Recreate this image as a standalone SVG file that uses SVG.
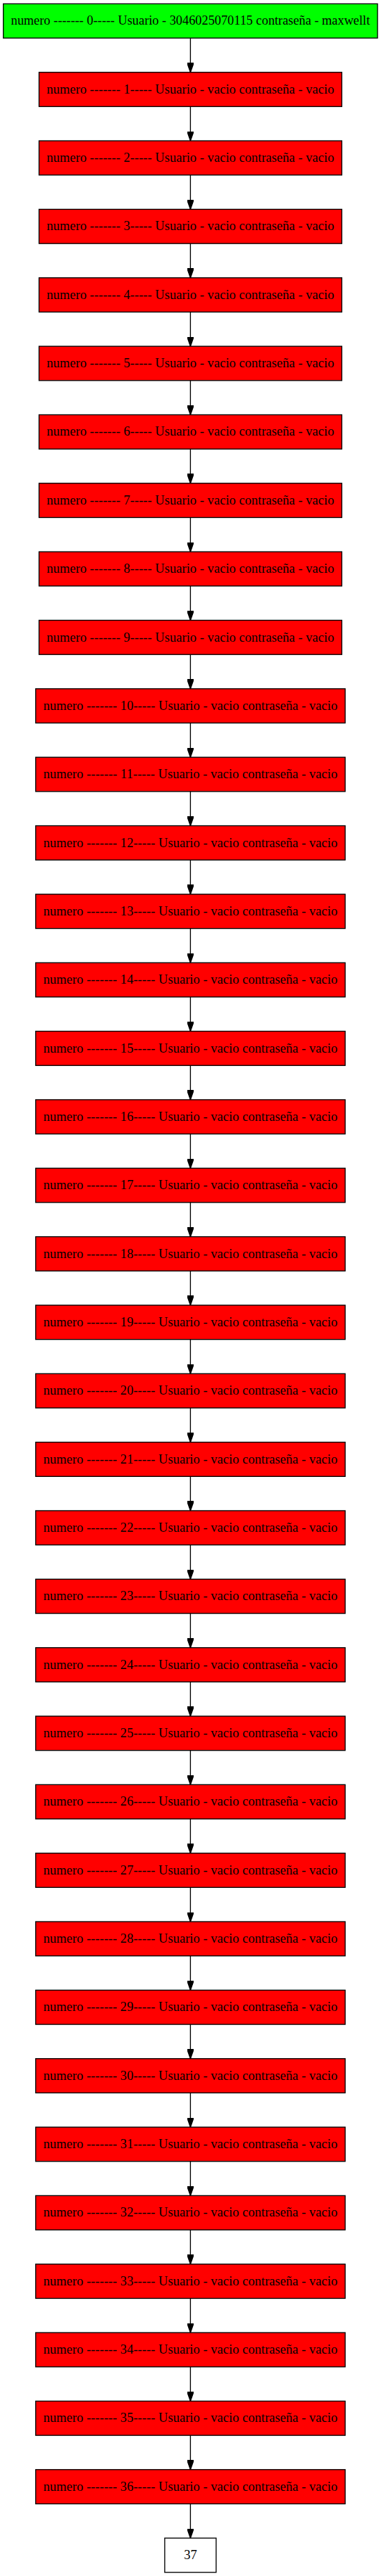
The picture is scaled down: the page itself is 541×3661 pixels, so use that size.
<svg xmlns="http://www.w3.org/2000/svg" width="541" height="3661" viewBox="0 0 541 3661">
<style>
rect{stroke:#000;stroke-width:1}
.g{fill:#00ff00}.r{fill:#ff0000}.w{fill:#fff}
text{font-family:"Liberation Serif","Times New Roman",serif;font-size:13.7px;fill:#000;text-anchor:middle}
.e line{stroke:#000;stroke-width:1}
</style>
<defs>
<marker id="ah" viewBox="0 0 10 7" refX="10" refY="3.5" markerWidth="10" markerHeight="7" markerUnits="userSpaceOnUse" orient="auto"><path d="M0,0L10,3.5L0,7z" fill="#000" stroke="#000" stroke-width="1"/></marker>
</defs>
<rect x="0" y="0" width="541" height="3661" fill="#fff" style="stroke:none"/>
<g transform="scale(1.352)">
<g id="edges" class="e">
<line x1="200" y1="40" x2="200" y2="76" marker-end="url(#ah)"/>
<line x1="200" y1="112" x2="200" y2="148" marker-end="url(#ah)"/>
<line x1="200" y1="184" x2="200" y2="220" marker-end="url(#ah)"/>
<line x1="200" y1="256" x2="200" y2="292" marker-end="url(#ah)"/>
<line x1="200" y1="328" x2="200" y2="364" marker-end="url(#ah)"/>
<line x1="200" y1="400" x2="200" y2="436" marker-end="url(#ah)"/>
<line x1="200" y1="472" x2="200" y2="508" marker-end="url(#ah)"/>
<line x1="200" y1="544" x2="200" y2="580" marker-end="url(#ah)"/>
<line x1="200" y1="616" x2="200" y2="652" marker-end="url(#ah)"/>
<line x1="200" y1="688" x2="200" y2="724" marker-end="url(#ah)"/>
<line x1="200" y1="760" x2="200" y2="796" marker-end="url(#ah)"/>
<line x1="200" y1="832" x2="200" y2="868" marker-end="url(#ah)"/>
<line x1="200" y1="904" x2="200" y2="940" marker-end="url(#ah)"/>
<line x1="200" y1="976" x2="200" y2="1012" marker-end="url(#ah)"/>
<line x1="200" y1="1048" x2="200" y2="1084" marker-end="url(#ah)"/>
<line x1="200" y1="1120" x2="200" y2="1156" marker-end="url(#ah)"/>
<line x1="200" y1="1192" x2="200" y2="1228" marker-end="url(#ah)"/>
<line x1="200" y1="1264" x2="200" y2="1300" marker-end="url(#ah)"/>
<line x1="200" y1="1336" x2="200" y2="1372" marker-end="url(#ah)"/>
<line x1="200" y1="1408" x2="200" y2="1444" marker-end="url(#ah)"/>
<line x1="200" y1="1480" x2="200" y2="1516" marker-end="url(#ah)"/>
<line x1="200" y1="1552" x2="200" y2="1588" marker-end="url(#ah)"/>
<line x1="200" y1="1624" x2="200" y2="1660" marker-end="url(#ah)"/>
<line x1="200" y1="1696" x2="200" y2="1732" marker-end="url(#ah)"/>
<line x1="200" y1="1768" x2="200" y2="1804" marker-end="url(#ah)"/>
<line x1="200" y1="1840" x2="200" y2="1876" marker-end="url(#ah)"/>
<line x1="200" y1="1912" x2="200" y2="1948" marker-end="url(#ah)"/>
<line x1="200" y1="1984" x2="200" y2="2020" marker-end="url(#ah)"/>
<line x1="200" y1="2056" x2="200" y2="2092" marker-end="url(#ah)"/>
<line x1="200" y1="2128" x2="200" y2="2164" marker-end="url(#ah)"/>
<line x1="200" y1="2200" x2="200" y2="2236" marker-end="url(#ah)"/>
<line x1="200" y1="2272" x2="200" y2="2308" marker-end="url(#ah)"/>
<line x1="200" y1="2344" x2="200" y2="2380" marker-end="url(#ah)"/>
<line x1="200" y1="2416" x2="200" y2="2452" marker-end="url(#ah)"/>
<line x1="200" y1="2488" x2="200" y2="2524" marker-end="url(#ah)"/>
<line x1="200" y1="2560" x2="200" y2="2596" marker-end="url(#ah)"/>
<line x1="200" y1="2632" x2="200" y2="2668" marker-end="url(#ah)"/>
</g>
<g id="n0"><rect class="g" x="3.5" y="4" width="393" height="36"/><text x="200" y="26.2" textLength="377" lengthAdjust="spacingAndGlyphs">numero ------- 0----- Usuario - 3046025070115 contraseña - maxwellt</text></g>
<g id="n1"><rect class="r" x="41" y="76" width="318" height="36"/><text x="200" y="98.2" textLength="302" lengthAdjust="spacingAndGlyphs">numero ------- 1----- Usuario - vacio contraseña - vacio</text></g>
<g id="n2"><rect class="r" x="41" y="148" width="318" height="36"/><text x="200" y="170.2" textLength="302" lengthAdjust="spacingAndGlyphs">numero ------- 2----- Usuario - vacio contraseña - vacio</text></g>
<g id="n3"><rect class="r" x="41" y="220" width="318" height="36"/><text x="200" y="242.2" textLength="302" lengthAdjust="spacingAndGlyphs">numero ------- 3----- Usuario - vacio contraseña - vacio</text></g>
<g id="n4"><rect class="r" x="41" y="292" width="318" height="36"/><text x="200" y="314.2" textLength="302" lengthAdjust="spacingAndGlyphs">numero ------- 4----- Usuario - vacio contraseña - vacio</text></g>
<g id="n5"><rect class="r" x="41" y="364" width="318" height="36"/><text x="200" y="386.2" textLength="302" lengthAdjust="spacingAndGlyphs">numero ------- 5----- Usuario - vacio contraseña - vacio</text></g>
<g id="n6"><rect class="r" x="41" y="436" width="318" height="36"/><text x="200" y="458.2" textLength="302" lengthAdjust="spacingAndGlyphs">numero ------- 6----- Usuario - vacio contraseña - vacio</text></g>
<g id="n7"><rect class="r" x="41" y="508" width="318" height="36"/><text x="200" y="530.2" textLength="302" lengthAdjust="spacingAndGlyphs">numero ------- 7----- Usuario - vacio contraseña - vacio</text></g>
<g id="n8"><rect class="r" x="41" y="580" width="318" height="36"/><text x="200" y="602.2" textLength="302" lengthAdjust="spacingAndGlyphs">numero ------- 8----- Usuario - vacio contraseña - vacio</text></g>
<g id="n9"><rect class="r" x="41" y="652" width="318" height="36"/><text x="200" y="674.2" textLength="302" lengthAdjust="spacingAndGlyphs">numero ------- 9----- Usuario - vacio contraseña - vacio</text></g>
<g id="n10"><rect class="r" x="37.5" y="724" width="325" height="36"/><text x="200" y="746.2" textLength="309" lengthAdjust="spacingAndGlyphs">numero ------- 10----- Usuario - vacio contraseña - vacio</text></g>
<g id="n11"><rect class="r" x="37.5" y="796" width="325" height="36"/><text x="200" y="818.2" textLength="309" lengthAdjust="spacingAndGlyphs">numero ------- 11----- Usuario - vacio contraseña - vacio</text></g>
<g id="n12"><rect class="r" x="37.5" y="868" width="325" height="36"/><text x="200" y="890.2" textLength="309" lengthAdjust="spacingAndGlyphs">numero ------- 12----- Usuario - vacio contraseña - vacio</text></g>
<g id="n13"><rect class="r" x="37.5" y="940" width="325" height="36"/><text x="200" y="962.2" textLength="309" lengthAdjust="spacingAndGlyphs">numero ------- 13----- Usuario - vacio contraseña - vacio</text></g>
<g id="n14"><rect class="r" x="37.5" y="1012" width="325" height="36"/><text x="200" y="1034.2" textLength="309" lengthAdjust="spacingAndGlyphs">numero ------- 14----- Usuario - vacio contraseña - vacio</text></g>
<g id="n15"><rect class="r" x="37.5" y="1084" width="325" height="36"/><text x="200" y="1106.2" textLength="309" lengthAdjust="spacingAndGlyphs">numero ------- 15----- Usuario - vacio contraseña - vacio</text></g>
<g id="n16"><rect class="r" x="37.5" y="1156" width="325" height="36"/><text x="200" y="1178.2" textLength="309" lengthAdjust="spacingAndGlyphs">numero ------- 16----- Usuario - vacio contraseña - vacio</text></g>
<g id="n17"><rect class="r" x="37.5" y="1228" width="325" height="36"/><text x="200" y="1250.2" textLength="309" lengthAdjust="spacingAndGlyphs">numero ------- 17----- Usuario - vacio contraseña - vacio</text></g>
<g id="n18"><rect class="r" x="37.5" y="1300" width="325" height="36"/><text x="200" y="1322.2" textLength="309" lengthAdjust="spacingAndGlyphs">numero ------- 18----- Usuario - vacio contraseña - vacio</text></g>
<g id="n19"><rect class="r" x="37.5" y="1372" width="325" height="36"/><text x="200" y="1394.2" textLength="309" lengthAdjust="spacingAndGlyphs">numero ------- 19----- Usuario - vacio contraseña - vacio</text></g>
<g id="n20"><rect class="r" x="37.5" y="1444" width="325" height="36"/><text x="200" y="1466.2" textLength="309" lengthAdjust="spacingAndGlyphs">numero ------- 20----- Usuario - vacio contraseña - vacio</text></g>
<g id="n21"><rect class="r" x="37.5" y="1516" width="325" height="36"/><text x="200" y="1538.2" textLength="309" lengthAdjust="spacingAndGlyphs">numero ------- 21----- Usuario - vacio contraseña - vacio</text></g>
<g id="n22"><rect class="r" x="37.5" y="1588" width="325" height="36"/><text x="200" y="1610.2" textLength="309" lengthAdjust="spacingAndGlyphs">numero ------- 22----- Usuario - vacio contraseña - vacio</text></g>
<g id="n23"><rect class="r" x="37.5" y="1660" width="325" height="36"/><text x="200" y="1682.2" textLength="309" lengthAdjust="spacingAndGlyphs">numero ------- 23----- Usuario - vacio contraseña - vacio</text></g>
<g id="n24"><rect class="r" x="37.5" y="1732" width="325" height="36"/><text x="200" y="1754.2" textLength="309" lengthAdjust="spacingAndGlyphs">numero ------- 24----- Usuario - vacio contraseña - vacio</text></g>
<g id="n25"><rect class="r" x="37.5" y="1804" width="325" height="36"/><text x="200" y="1826.2" textLength="309" lengthAdjust="spacingAndGlyphs">numero ------- 25----- Usuario - vacio contraseña - vacio</text></g>
<g id="n26"><rect class="r" x="37.5" y="1876" width="325" height="36"/><text x="200" y="1898.2" textLength="309" lengthAdjust="spacingAndGlyphs">numero ------- 26----- Usuario - vacio contraseña - vacio</text></g>
<g id="n27"><rect class="r" x="37.5" y="1948" width="325" height="36"/><text x="200" y="1970.2" textLength="309" lengthAdjust="spacingAndGlyphs">numero ------- 27----- Usuario - vacio contraseña - vacio</text></g>
<g id="n28"><rect class="r" x="37.5" y="2020" width="325" height="36"/><text x="200" y="2042.2" textLength="309" lengthAdjust="spacingAndGlyphs">numero ------- 28----- Usuario - vacio contraseña - vacio</text></g>
<g id="n29"><rect class="r" x="37.5" y="2092" width="325" height="36"/><text x="200" y="2114.2" textLength="309" lengthAdjust="spacingAndGlyphs">numero ------- 29----- Usuario - vacio contraseña - vacio</text></g>
<g id="n30"><rect class="r" x="37.5" y="2164" width="325" height="36"/><text x="200" y="2186.2" textLength="309" lengthAdjust="spacingAndGlyphs">numero ------- 30----- Usuario - vacio contraseña - vacio</text></g>
<g id="n31"><rect class="r" x="37.5" y="2236" width="325" height="36"/><text x="200" y="2258.2" textLength="309" lengthAdjust="spacingAndGlyphs">numero ------- 31----- Usuario - vacio contraseña - vacio</text></g>
<g id="n32"><rect class="r" x="37.5" y="2308" width="325" height="36"/><text x="200" y="2330.2" textLength="309" lengthAdjust="spacingAndGlyphs">numero ------- 32----- Usuario - vacio contraseña - vacio</text></g>
<g id="n33"><rect class="r" x="37.5" y="2380" width="325" height="36"/><text x="200" y="2402.2" textLength="309" lengthAdjust="spacingAndGlyphs">numero ------- 33----- Usuario - vacio contraseña - vacio</text></g>
<g id="n34"><rect class="r" x="37.5" y="2452" width="325" height="36"/><text x="200" y="2474.2" textLength="309" lengthAdjust="spacingAndGlyphs">numero ------- 34----- Usuario - vacio contraseña - vacio</text></g>
<g id="n35"><rect class="r" x="37.5" y="2524" width="325" height="36"/><text x="200" y="2546.2" textLength="309" lengthAdjust="spacingAndGlyphs">numero ------- 35----- Usuario - vacio contraseña - vacio</text></g>
<g id="n36"><rect class="r" x="37.5" y="2596" width="325" height="36"/><text x="200" y="2618.2" textLength="309" lengthAdjust="spacingAndGlyphs">numero ------- 36----- Usuario - vacio contraseña - vacio</text></g>
<g id="n37"><rect class="w" x="173" y="2668" width="54" height="36"/><text x="200" y="2690.2">37</text></g>
</g>
</svg>
